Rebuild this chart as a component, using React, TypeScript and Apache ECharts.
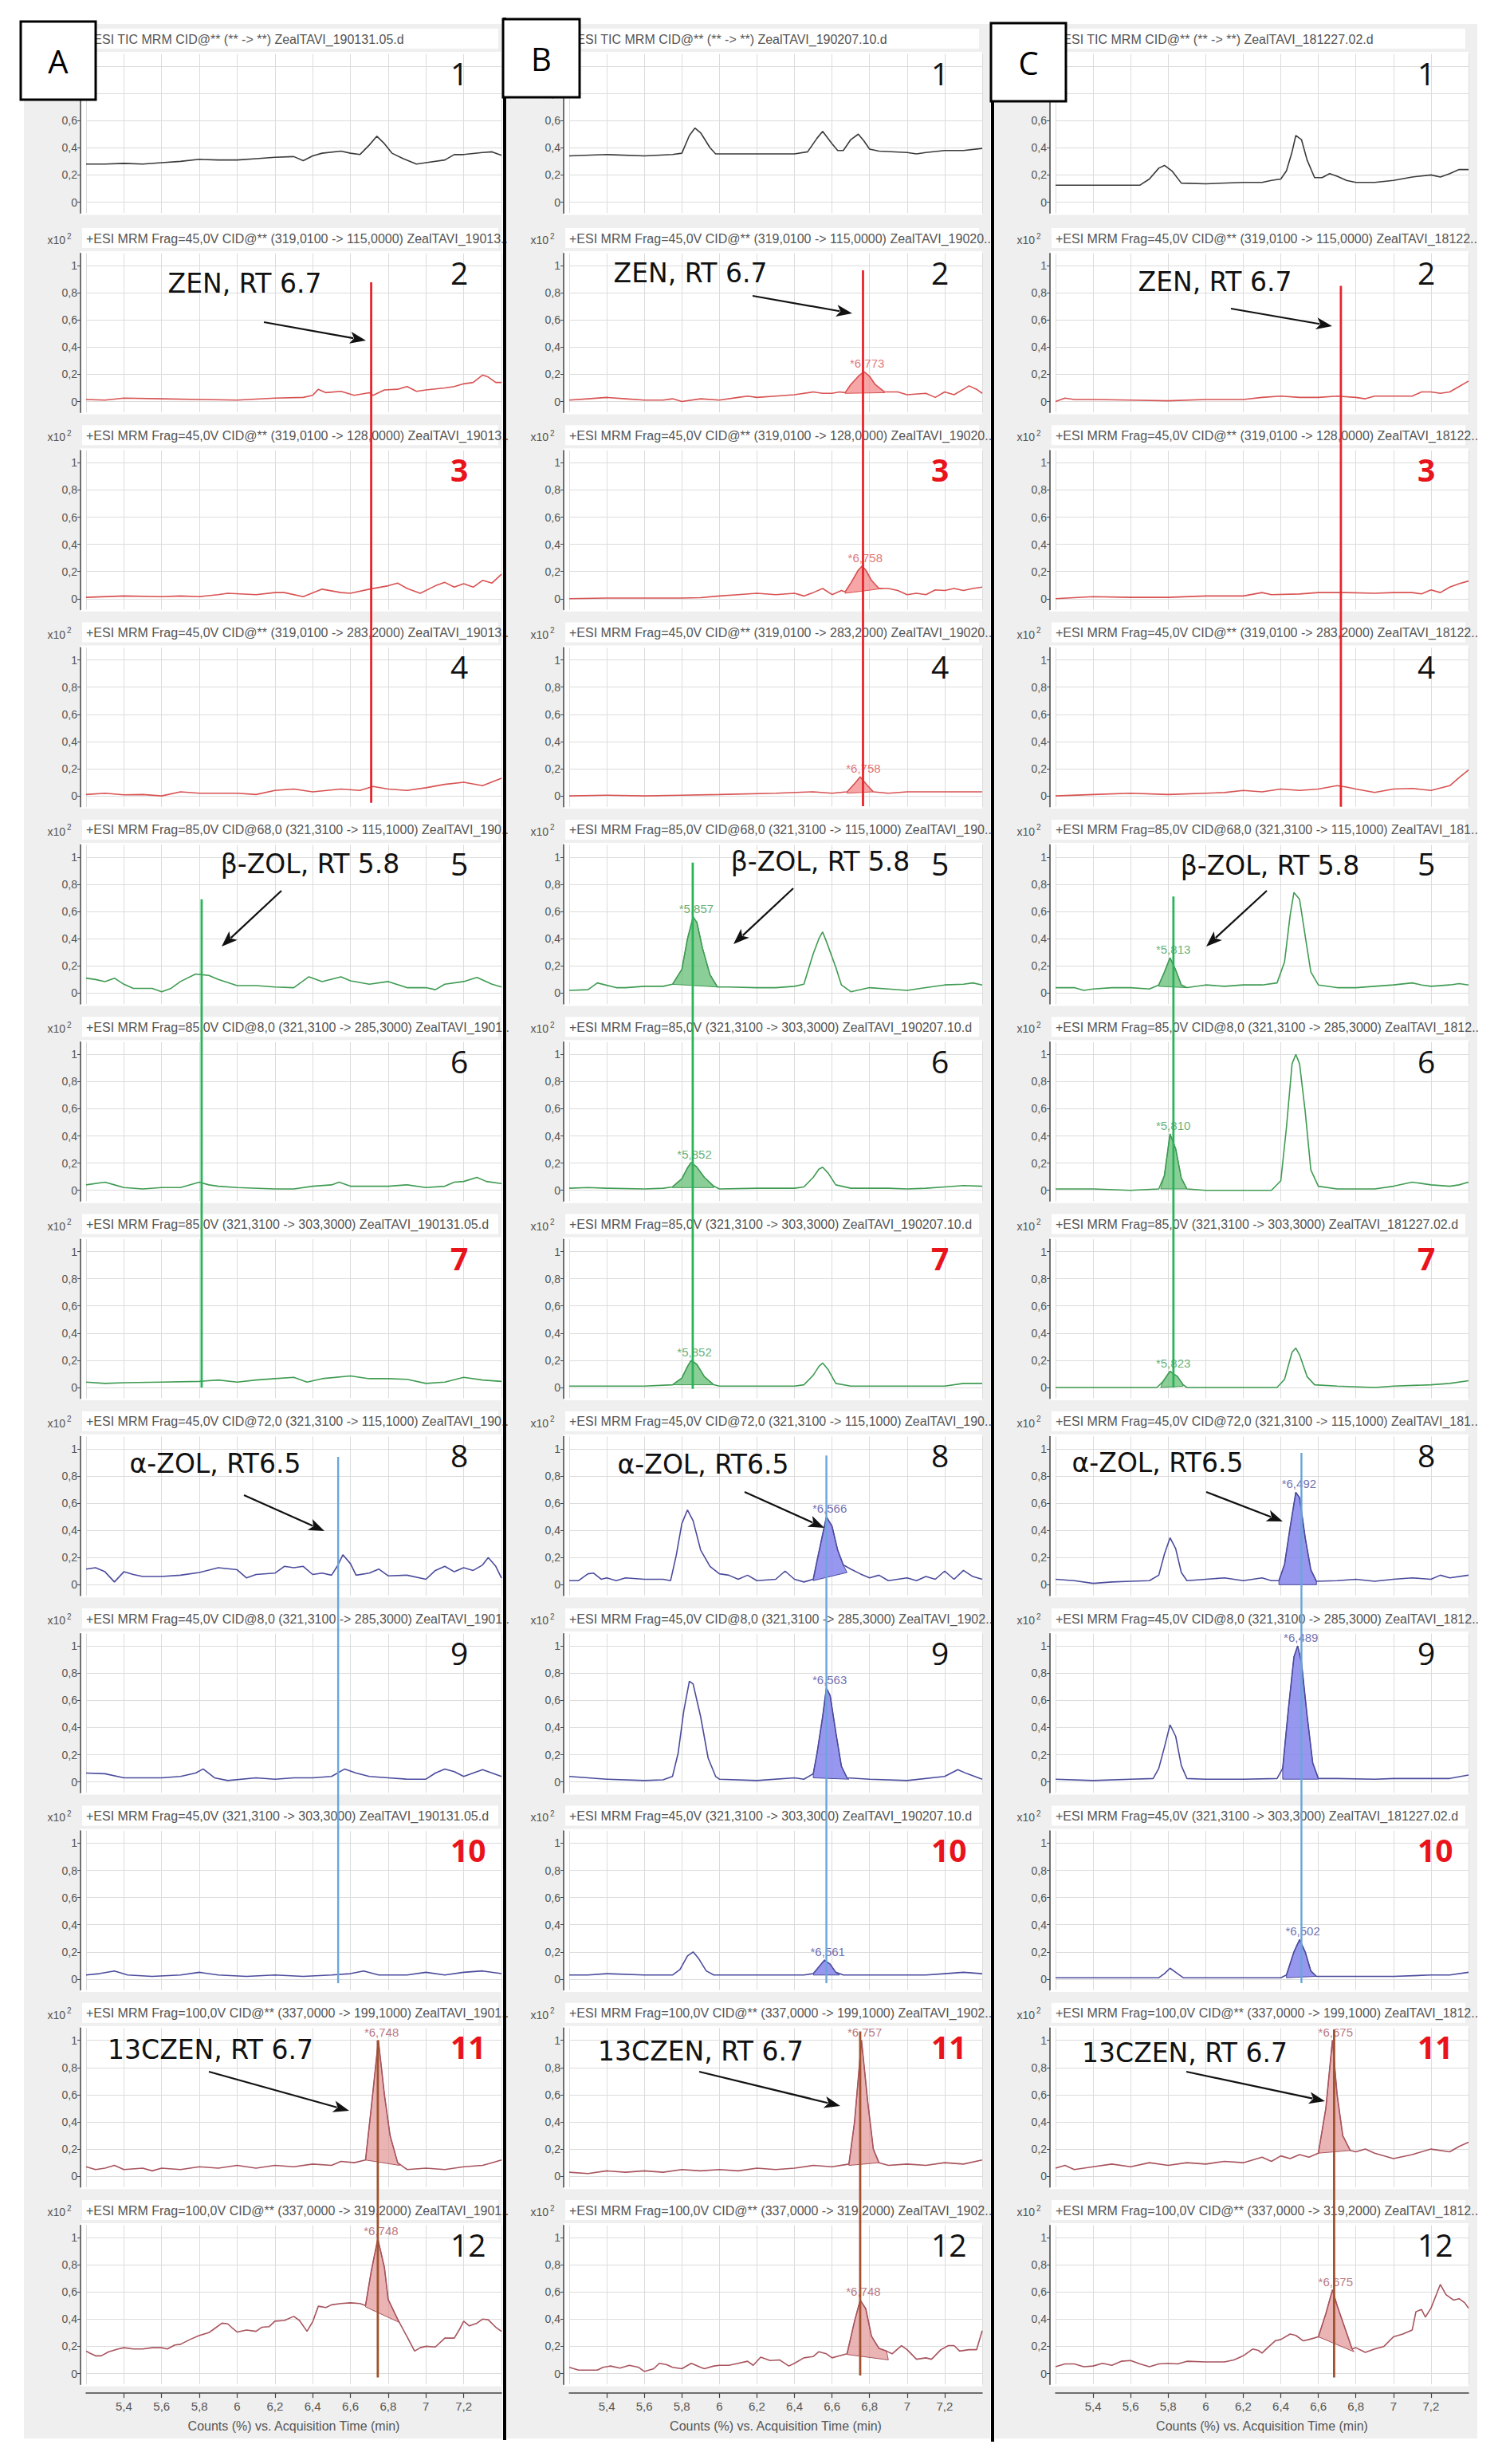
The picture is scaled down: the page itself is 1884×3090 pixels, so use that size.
import React, { useEffect, useRef } from 'react';
import * as echarts from 'echarts';

type Pt = [number, number];

const W = 1884;
const H = 3090;

// ---------- axis definitions ----------
const X_MIN = 5.2;
const X_MAX = 7.4;
const X_STEP = 0.2;
const Y_MIN = -0.08;
const Y_MAX = 1.09;
const Y_TICKS = [0, 0.2, 0.4, 0.6, 0.8, 1];
const X_TITLE = 'Counts (%) vs. Acquisition Time (min)';
const LETTERS = ['A', 'B', 'C'];

// ---------- header texts ----------
const HEADERS_A = [
  '+ESI TIC MRM CID@** (** -> **) ZealTAVI_190131.05.d',
  '+ESI MRM Frag=45,0V CID@** (319,0100 -> 115,0000) ZealTAVI_19013..',
  '+ESI MRM Frag=45,0V CID@** (319,0100 -> 128,0000) ZealTAVI_19013..',
  '+ESI MRM Frag=45,0V CID@** (319,0100 -> 283,2000) ZealTAVI_19013..',
  '+ESI MRM Frag=85,0V CID@68,0 (321,3100 -> 115,1000) ZealTAVI_190..',
  '+ESI MRM Frag=85,0V CID@8,0 (321,3100 -> 285,3000) ZealTAVI_1901..',
  '+ESI MRM Frag=85,0V (321,3100 -> 303,3000) ZealTAVI_190131.05.d',
  '+ESI MRM Frag=45,0V CID@72,0 (321,3100 -> 115,1000) ZealTAVI_190..',
  '+ESI MRM Frag=45,0V CID@8,0 (321,3100 -> 285,3000) ZealTAVI_1901..',
  '+ESI MRM Frag=45,0V (321,3100 -> 303,3000) ZealTAVI_190131.05.d',
  '+ESI MRM Frag=100,0V CID@** (337,0000 -> 199,1000) ZealTAVI_1901..',
  '+ESI MRM Frag=100,0V CID@** (337,0000 -> 319,2000) ZealTAVI_1901..',
];
const HEADERS_B = [
  '+ESI TIC MRM CID@** (** -> **) ZealTAVI_190207.10.d',
  '+ESI MRM Frag=45,0V CID@** (319,0100 -> 115,0000) ZealTAVI_19020..',
  '+ESI MRM Frag=45,0V CID@** (319,0100 -> 128,0000) ZealTAVI_19020..',
  '+ESI MRM Frag=45,0V CID@** (319,0100 -> 283,2000) ZealTAVI_19020..',
  '+ESI MRM Frag=85,0V CID@68,0 (321,3100 -> 115,1000) ZealTAVI_190..',
  '+ESI MRM Frag=85,0V (321,3100 -> 303,3000) ZealTAVI_190207.10.d',
  '+ESI MRM Frag=85,0V (321,3100 -> 303,3000) ZealTAVI_190207.10.d',
  '+ESI MRM Frag=45,0V CID@72,0 (321,3100 -> 115,1000) ZealTAVI_190..',
  '+ESI MRM Frag=45,0V CID@8,0 (321,3100 -> 285,3000) ZealTAVI_1902..',
  '+ESI MRM Frag=45,0V (321,3100 -> 303,3000) ZealTAVI_190207.10.d',
  '+ESI MRM Frag=100,0V CID@** (337,0000 -> 199,1000) ZealTAVI_1902..',
  '+ESI MRM Frag=100,0V CID@** (337,0000 -> 319,2000) ZealTAVI_1902..',
];
const HEADERS_C = [
  '+ESI TIC MRM CID@** (** -> **) ZealTAVI_181227.02.d',
  '+ESI MRM Frag=45,0V CID@** (319,0100 -> 115,0000) ZealTAVI_18122..',
  '+ESI MRM Frag=45,0V CID@** (319,0100 -> 128,0000) ZealTAVI_18122..',
  '+ESI MRM Frag=45,0V CID@** (319,0100 -> 283,2000) ZealTAVI_18122..',
  '+ESI MRM Frag=85,0V CID@68,0 (321,3100 -> 115,1000) ZealTAVI_181..',
  '+ESI MRM Frag=85,0V CID@8,0 (321,3100 -> 285,3000) ZealTAVI_1812..',
  '+ESI MRM Frag=85,0V (321,3100 -> 303,3000) ZealTAVI_181227.02.d',
  '+ESI MRM Frag=45,0V CID@72,0 (321,3100 -> 115,1000) ZealTAVI_181..',
  '+ESI MRM Frag=45,0V CID@8,0 (321,3100 -> 285,3000) ZealTAVI_1812..',
  '+ESI MRM Frag=45,0V (321,3100 -> 303,3000) ZealTAVI_181227.02.d',
  '+ESI MRM Frag=100,0V CID@** (337,0000 -> 199,1000) ZealTAVI_1812..',
  '+ESI MRM Frag=100,0V CID@** (337,0000 -> 319,2000) ZealTAVI_1812..',
];
const ROW_NUMBERS = ['1', '2', '3', '4', '5', '6', '7', '8', '9', '10', '11', '12'];
const RED_ROWS = [2, 6, 9, 10];

// ---------- traces (time min, counts x10^2) ----------
const A1: Pt[] = [[5.2,0.28],[5.3,0.28],[5.4,0.285],[5.5,0.28],[5.6,0.29],[5.7,0.3],[5.8,0.315],[5.9,0.31],[6.0,0.31],[6.1,0.32],[6.2,0.33],[6.3,0.335],[6.35,0.305],[6.4,0.34],[6.45,0.36],[6.55,0.375],[6.6,0.36],[6.65,0.35],[6.7,0.42],[6.74,0.485],[6.78,0.43],[6.82,0.36],[6.88,0.32],[6.95,0.28],[7.0,0.29],[7.1,0.31],[7.15,0.35],[7.2,0.35],[7.3,0.365],[7.35,0.37],[7.4,0.345]];
const A2: Pt[] = [[5.2,0.015],[5.3,0.01],[5.4,0.025],[5.6,0.02],[5.8,0.015],[6.0,0.01],[6.2,0.025],[6.35,0.03],[6.4,0.045],[6.43,0.09],[6.47,0.065],[6.55,0.075],[6.62,0.045],[6.7,0.065],[6.72,0.045],[6.78,0.085],[6.85,0.09],[6.9,0.11],[6.95,0.075],[7.0,0.085],[7.1,0.1],[7.15,0.11],[7.2,0.13],[7.25,0.14],[7.3,0.195],[7.33,0.18],[7.37,0.14],[7.4,0.14]];
const A3: Pt[] = [[5.2,0.01],[5.4,0.02],[5.6,0.015],[5.7,0.02],[5.8,0.015],[5.9,0.03],[5.95,0.04],[6.1,0.03],[6.2,0.045],[6.25,0.045],[6.35,0.015],[6.45,0.07],[6.55,0.045],[6.6,0.04],[6.7,0.07],[6.8,0.095],[6.85,0.115],[6.9,0.075],[6.97,0.04],[7.05,0.095],[7.1,0.12],[7.15,0.085],[7.2,0.11],[7.25,0.085],[7.3,0.135],[7.35,0.115],[7.4,0.18]];
const A4: Pt[] = [[5.2,0.01],[5.3,0.02],[5.4,0.008],[5.5,0.01],[5.6,0.0],[5.7,0.03],[5.8,0.02],[6.0,0.02],[6.1,0.01],[6.2,0.04],[6.3,0.05],[6.4,0.03],[6.55,0.05],[6.65,0.04],[6.72,0.07],[6.8,0.05],[6.9,0.04],[7.0,0.06],[7.1,0.085],[7.2,0.1],[7.3,0.075],[7.4,0.13]];
const A5: Pt[] = [[5.2,0.11],[5.25,0.1],[5.3,0.085],[5.35,0.11],[5.4,0.065],[5.45,0.035],[5.55,0.035],[5.6,0.01],[5.65,0.035],[5.7,0.085],[5.78,0.14],[5.85,0.13],[5.9,0.1],[6.0,0.055],[6.1,0.055],[6.2,0.045],[6.3,0.04],[6.38,0.12],[6.45,0.085],[6.55,0.12],[6.6,0.09],[6.7,0.065],[6.8,0.085],[6.9,0.04],[7.0,0.04],[7.05,0.025],[7.1,0.065],[7.2,0.085],[7.27,0.115],[7.35,0.065],[7.4,0.045]];
const A6: Pt[] = [[5.2,0.04],[5.3,0.06],[5.35,0.04],[5.4,0.02],[5.5,0.01],[5.6,0.02],[5.7,0.02],[5.8,0.06],[5.85,0.04],[5.9,0.03],[6.0,0.02],[6.2,0.01],[6.3,0.01],[6.4,0.03],[6.5,0.04],[6.54,0.06],[6.6,0.03],[6.8,0.03],[6.9,0.04],[7.0,0.02],[7.1,0.03],[7.15,0.06],[7.2,0.065],[7.27,0.095],[7.32,0.065],[7.4,0.05]];
const A7: Pt[] = [[5.2,0.04],[5.3,0.03],[5.4,0.035],[5.6,0.04],[5.8,0.045],[5.9,0.055],[6.0,0.04],[6.1,0.055],[6.2,0.065],[6.3,0.075],[6.37,0.04],[6.45,0.065],[6.6,0.085],[6.7,0.065],[6.8,0.065],[6.9,0.06],[7.0,0.03],[7.1,0.04],[7.2,0.075],[7.3,0.055],[7.4,0.045]];
const A8: Pt[] = [[5.2,0.115],[5.25,0.125],[5.3,0.095],[5.35,0.02],[5.4,0.095],[5.45,0.075],[5.5,0.06],[5.6,0.06],[5.7,0.07],[5.8,0.09],[5.9,0.125],[6.0,0.11],[6.05,0.05],[6.1,0.075],[6.2,0.085],[6.25,0.135],[6.3,0.125],[6.35,0.135],[6.4,0.075],[6.45,0.085],[6.5,0.07],[6.53,0.135],[6.56,0.22],[6.6,0.155],[6.63,0.07],[6.7,0.085],[6.75,0.115],[6.8,0.065],[6.9,0.07],[7.0,0.04],[7.05,0.105],[7.1,0.135],[7.15,0.095],[7.2,0.125],[7.25,0.105],[7.3,0.145],[7.33,0.2],[7.37,0.135],[7.4,0.05]];
const A9: Pt[] = [[5.2,0.065],[5.3,0.06],[5.4,0.03],[5.5,0.03],[5.6,0.03],[5.7,0.04],[5.78,0.065],[5.82,0.095],[5.88,0.03],[5.95,0.01],[6.1,0.03],[6.2,0.02],[6.3,0.03],[6.4,0.03],[6.5,0.04],[6.57,0.095],[6.63,0.065],[6.7,0.04],[6.8,0.03],[6.9,0.02],[7.0,0.02],[7.05,0.065],[7.1,0.095],[7.15,0.075],[7.2,0.04],[7.3,0.09],[7.35,0.065],[7.4,0.04]];
const A10: Pt[] = [[5.2,0.03],[5.27,0.04],[5.35,0.06],[5.42,0.03],[5.55,0.02],[5.7,0.03],[5.8,0.05],[5.9,0.03],[6.05,0.02],[6.2,0.03],[6.35,0.02],[6.5,0.03],[6.6,0.04],[6.67,0.06],[6.75,0.03],[6.9,0.03],[7.0,0.05],[7.1,0.03],[7.2,0.05],[7.3,0.06],[7.4,0.04]];
const A11: Pt[] = [[5.2,0.07],[5.25,0.05],[5.3,0.06],[5.35,0.08],[5.4,0.05],[5.5,0.06],[5.55,0.04],[5.6,0.06],[5.7,0.05],[5.8,0.07],[5.9,0.06],[6.0,0.08],[6.1,0.06],[6.2,0.08],[6.3,0.07],[6.4,0.09],[6.5,0.08],[6.55,0.11],[6.62,0.1],[6.68,0.12],[6.71,0.5],[6.748,1.0],[6.78,0.6],[6.81,0.3],[6.85,0.1],[6.9,0.05],[7.0,0.06],[7.1,0.05],[7.2,0.07],[7.3,0.08],[7.35,0.1],[7.4,0.12]];
const A12: Pt[] = [[5.2,0.165],[5.22,0.15],[5.25,0.13],[5.28,0.13],[5.32,0.16],[5.37,0.18],[5.4,0.19],[5.45,0.18],[5.5,0.18],[5.55,0.19],[5.6,0.19],[5.63,0.18],[5.67,0.21],[5.7,0.215],[5.75,0.25],[5.8,0.28],[5.85,0.3],[5.88,0.33],[5.92,0.37],[5.95,0.365],[5.97,0.34],[6.0,0.305],[6.05,0.32],[6.1,0.31],[6.13,0.34],[6.17,0.345],[6.2,0.385],[6.25,0.39],[6.3,0.42],[6.33,0.39],[6.37,0.31],[6.4,0.38],[6.43,0.495],[6.47,0.485],[6.5,0.505],[6.55,0.515],[6.6,0.52],[6.65,0.515],[6.68,0.5],[6.71,0.75],[6.745,0.99],[6.78,0.78],[6.8,0.545],[6.85,0.4],[6.9,0.27],[6.94,0.165],[6.97,0.19],[7.0,0.2],[7.05,0.195],[7.1,0.26],[7.15,0.26],[7.18,0.33],[7.2,0.385],[7.23,0.35],[7.27,0.37],[7.3,0.4],[7.33,0.395],[7.37,0.34],[7.4,0.31]];

const B1: Pt[] = [[5.2,0.34],[5.4,0.35],[5.6,0.34],[5.75,0.35],[5.8,0.36],[5.84,0.49],[5.87,0.545],[5.9,0.51],[5.95,0.4],[5.98,0.355],[6.1,0.355],[6.3,0.355],[6.4,0.355],[6.47,0.37],[6.52,0.47],[6.55,0.52],[6.6,0.43],[6.63,0.38],[6.66,0.38],[6.7,0.46],[6.74,0.5],[6.77,0.45],[6.8,0.39],[6.85,0.375],[7.0,0.365],[7.05,0.355],[7.1,0.365],[7.2,0.38],[7.3,0.38],[7.4,0.395]];
const B2: Pt[] = [[5.2,0.01],[5.3,0.02],[5.4,0.03],[5.5,0.02],[5.6,0.01],[5.7,0.01],[5.75,0.02],[5.8,0.0],[5.9,0.02],[6.0,0.01],[6.1,0.03],[6.15,0.04],[6.2,0.03],[6.3,0.04],[6.4,0.05],[6.5,0.07],[6.55,0.06],[6.6,0.06],[6.64,0.07],[6.67,0.065],[6.7,0.125],[6.74,0.185],[6.77,0.22],[6.8,0.185],[6.83,0.125],[6.88,0.07],[6.95,0.07],[7.0,0.05],[7.1,0.06],[7.15,0.03],[7.2,0.07],[7.25,0.05],[7.3,0.09],[7.33,0.115],[7.37,0.09],[7.4,0.06]];
const B3: Pt[] = [[5.2,0.0],[5.4,0.005],[5.6,0.005],[5.8,0.005],[5.9,0.008],[6.0,0.02],[6.1,0.03],[6.2,0.04],[6.3,0.03],[6.4,0.04],[6.45,0.02],[6.5,0.045],[6.55,0.075],[6.6,0.03],[6.65,0.06],[6.67,0.05],[6.7,0.115],[6.74,0.21],[6.76,0.24],[6.78,0.21],[6.81,0.135],[6.85,0.075],[6.9,0.075],[6.95,0.06],[7.0,0.03],[7.05,0.04],[7.1,0.03],[7.15,0.065],[7.2,0.06],[7.25,0.075],[7.3,0.06],[7.35,0.075],[7.4,0.085]];
const B4: Pt[] = [[5.2,0.0],[5.4,0.005],[5.6,0.0],[5.8,0.005],[6.0,0.01],[6.3,0.02],[6.5,0.03],[6.6,0.02],[6.68,0.03],[6.72,0.09],[6.75,0.14],[6.78,0.09],[6.82,0.03],[6.9,0.02],[7.0,0.03],[7.2,0.03],[7.4,0.03]];
const B5: Pt[] = [[5.2,0.02],[5.3,0.025],[5.35,0.075],[5.45,0.04],[5.5,0.04],[5.6,0.05],[5.7,0.05],[5.75,0.065],[5.8,0.175],[5.83,0.4],[5.86,0.56],[5.88,0.52],[5.91,0.33],[5.95,0.135],[5.99,0.045],[6.05,0.045],[6.2,0.04],[6.3,0.04],[6.4,0.05],[6.45,0.065],[6.5,0.29],[6.53,0.4],[6.55,0.45],[6.57,0.38],[6.62,0.19],[6.65,0.06],[6.7,0.01],[6.8,0.04],[6.9,0.03],[7.0,0.02],[7.1,0.04],[7.2,0.06],[7.3,0.065],[7.35,0.075],[7.4,0.06]];
const B6: Pt[] = [[5.2,0.015],[5.3,0.02],[5.4,0.015],[5.6,0.01],[5.7,0.015],[5.75,0.025],[5.8,0.085],[5.83,0.165],[5.85,0.205],[5.88,0.17],[5.92,0.095],[5.97,0.03],[6.0,0.01],[6.2,0.015],[6.4,0.015],[6.45,0.025],[6.5,0.095],[6.53,0.155],[6.55,0.17],[6.58,0.125],[6.62,0.04],[6.7,0.015],[6.9,0.015],[7.0,0.01],[7.1,0.015],[7.2,0.025],[7.3,0.035],[7.4,0.03]];
const B7: Pt[] = [[5.2,0.01],[5.4,0.01],[5.6,0.01],[5.75,0.02],[5.8,0.07],[5.83,0.155],[5.85,0.2],[5.88,0.17],[5.92,0.08],[5.97,0.02],[6.0,0.01],[6.2,0.01],[6.4,0.01],[6.45,0.02],[6.5,0.09],[6.53,0.155],[6.55,0.18],[6.58,0.13],[6.62,0.03],[6.7,0.01],[7.0,0.01],[7.2,0.01],[7.3,0.03],[7.4,0.03]];
const B8: Pt[] = [[5.2,0.03],[5.25,0.03],[5.3,0.08],[5.33,0.085],[5.37,0.04],[5.4,0.05],[5.45,0.03],[5.5,0.05],[5.6,0.04],[5.7,0.04],[5.74,0.03],[5.77,0.215],[5.8,0.45],[5.83,0.55],[5.86,0.47],[5.9,0.255],[5.95,0.135],[6.0,0.08],[6.05,0.07],[6.1,0.04],[6.15,0.07],[6.2,0.03],[6.3,0.04],[6.35,0.1],[6.4,0.04],[6.45,0.02],[6.5,0.04],[6.52,0.175],[6.55,0.37],[6.57,0.5],[6.6,0.43],[6.63,0.255],[6.66,0.145],[6.7,0.115],[6.75,0.08],[6.8,0.05],[6.85,0.07],[6.9,0.03],[7.0,0.05],[7.05,0.03],[7.1,0.06],[7.15,0.04],[7.2,0.1],[7.25,0.04],[7.3,0.105],[7.35,0.06],[7.4,0.04]];
const B9: Pt[] = [[5.2,0.04],[5.3,0.03],[5.4,0.02],[5.6,0.01],[5.7,0.015],[5.75,0.04],[5.78,0.21],[5.81,0.52],[5.84,0.74],[5.86,0.72],[5.9,0.48],[5.94,0.175],[5.98,0.04],[6.0,0.02],[6.2,0.01],[6.4,0.03],[6.45,0.02],[6.5,0.06],[6.52,0.21],[6.55,0.48],[6.57,0.69],[6.59,0.635],[6.62,0.365],[6.65,0.115],[6.68,0.03],[6.8,0.02],[7.0,0.01],[7.2,0.04],[7.27,0.09],[7.32,0.06],[7.4,0.02]];
const B10: Pt[] = [[5.2,0.03],[5.3,0.03],[5.4,0.04],[5.6,0.03],[5.75,0.03],[5.79,0.07],[5.83,0.17],[5.86,0.2],[5.89,0.15],[5.93,0.06],[5.97,0.03],[6.2,0.03],[6.45,0.03],[6.5,0.04],[6.53,0.09],[6.56,0.14],[6.59,0.11],[6.62,0.05],[6.66,0.03],[6.9,0.03],[7.1,0.03],[7.2,0.04],[7.3,0.05],[7.4,0.04]];
const B11: Pt[] = [[5.2,0.03],[5.3,0.02],[5.4,0.04],[5.5,0.03],[5.6,0.04],[5.7,0.03],[5.8,0.05],[5.9,0.04],[6.0,0.05],[6.1,0.04],[6.2,0.06],[6.3,0.05],[6.4,0.06],[6.5,0.08],[6.6,0.07],[6.69,0.09],[6.72,0.4],[6.757,1.0],[6.79,0.55],[6.82,0.2],[6.85,0.1],[6.9,0.08],[7.0,0.09],[7.1,0.08],[7.2,0.1],[7.3,0.09],[7.4,0.12]];
const B12: Pt[] = [[5.2,0.045],[5.25,0.025],[5.3,0.025],[5.35,0.025],[5.38,0.045],[5.42,0.055],[5.47,0.04],[5.52,0.06],[5.57,0.045],[5.6,0.015],[5.65,0.035],[5.68,0.075],[5.72,0.065],[5.75,0.045],[5.8,0.035],[5.85,0.075],[5.9,0.045],[5.92,0.035],[5.97,0.055],[6.0,0.06],[6.05,0.06],[6.1,0.075],[6.15,0.09],[6.18,0.06],[6.22,0.12],[6.27,0.095],[6.32,0.1],[6.37,0.055],[6.4,0.075],[6.45,0.115],[6.5,0.125],[6.53,0.16],[6.57,0.145],[6.6,0.115],[6.64,0.13],[6.68,0.145],[6.72,0.385],[6.75,0.54],[6.78,0.475],[6.81,0.275],[6.85,0.185],[6.89,0.165],[6.92,0.145],[6.97,0.205],[7.0,0.175],[7.05,0.105],[7.1,0.115],[7.13,0.105],[7.18,0.175],[7.22,0.205],[7.25,0.205],[7.28,0.165],[7.33,0.175],[7.37,0.175],[7.4,0.315]];

const C1: Pt[] = [[5.2,0.125],[5.4,0.125],[5.65,0.125],[5.7,0.17],[5.75,0.25],[5.78,0.27],[5.82,0.23],[5.87,0.14],[6.0,0.135],[6.2,0.145],[6.3,0.145],[6.35,0.16],[6.4,0.17],[6.43,0.23],[6.46,0.37],[6.48,0.49],[6.51,0.46],[6.54,0.31],[6.58,0.18],[6.62,0.18],[6.66,0.21],[6.7,0.19],[6.75,0.16],[6.8,0.145],[6.9,0.145],[7.0,0.16],[7.1,0.185],[7.2,0.2],[7.25,0.185],[7.3,0.21],[7.35,0.24],[7.4,0.24]];
const C2: Pt[] = [[5.2,0.0],[5.25,0.025],[5.3,0.015],[5.4,0.015],[5.6,0.01],[5.8,0.005],[6.0,0.015],[6.2,0.015],[6.3,0.03],[6.4,0.04],[6.5,0.03],[6.6,0.03],[6.7,0.04],[6.8,0.03],[6.85,0.02],[6.9,0.04],[7.0,0.04],[7.1,0.04],[7.15,0.07],[7.2,0.07],[7.25,0.06],[7.3,0.07],[7.35,0.11],[7.4,0.15]];
const C3: Pt[] = [[5.2,0.0],[5.4,0.015],[5.6,0.01],[5.8,0.01],[6.0,0.02],[6.2,0.02],[6.3,0.045],[6.35,0.03],[6.5,0.035],[6.6,0.045],[6.75,0.045],[6.9,0.04],[7.0,0.045],[7.1,0.045],[7.15,0.035],[7.2,0.065],[7.25,0.045],[7.3,0.085],[7.35,0.11],[7.4,0.13]];
const C4: Pt[] = [[5.2,0.0],[5.4,0.01],[5.6,0.02],[5.8,0.01],[6.0,0.02],[6.1,0.025],[6.2,0.04],[6.3,0.03],[6.4,0.05],[6.5,0.04],[6.6,0.05],[6.7,0.075],[6.75,0.065],[6.8,0.05],[6.9,0.025],[7.0,0.05],[7.1,0.055],[7.2,0.04],[7.3,0.075],[7.35,0.135],[7.4,0.19]];
const C5: Pt[] = [[5.2,0.04],[5.3,0.04],[5.35,0.02],[5.4,0.03],[5.5,0.04],[5.6,0.04],[5.7,0.03],[5.75,0.06],[5.78,0.155],[5.81,0.26],[5.84,0.17],[5.87,0.06],[5.9,0.04],[6.0,0.06],[6.1,0.05],[6.2,0.06],[6.3,0.06],[6.38,0.075],[6.42,0.23],[6.45,0.575],[6.47,0.74],[6.5,0.69],[6.53,0.42],[6.56,0.155],[6.6,0.06],[6.7,0.04],[6.8,0.04],[6.9,0.05],[7.0,0.06],[7.1,0.075],[7.15,0.06],[7.2,0.05],[7.3,0.06],[7.35,0.07],[7.4,0.06]];
const C6: Pt[] = [[5.2,0.01],[5.4,0.01],[5.6,0.0],[5.75,0.01],[5.78,0.11],[5.81,0.415],[5.84,0.305],[5.87,0.09],[5.9,0.01],[6.0,0.0],[6.2,0.0],[6.35,0.0],[6.4,0.07],[6.43,0.46],[6.46,0.93],[6.48,1.0],[6.5,0.93],[6.53,0.58],[6.56,0.15],[6.6,0.03],[6.7,0.01],[6.9,0.01],[7.0,0.03],[7.1,0.06],[7.2,0.04],[7.3,0.03],[7.35,0.04],[7.4,0.06]];
const C7: Pt[] = [[5.2,0.0],[5.4,0.0],[5.6,0.0],[5.74,0.0],[5.77,0.04],[5.81,0.12],[5.85,0.08],[5.88,0.02],[5.9,0.0],[6.0,0.0],[6.2,0.0],[6.38,0.0],[6.42,0.06],[6.46,0.26],[6.48,0.29],[6.5,0.24],[6.54,0.08],[6.58,0.02],[6.7,0.01],[6.9,0.0],[7.0,0.01],[7.2,0.02],[7.3,0.03],[7.4,0.05]];
const C8: Pt[] = [[5.2,0.04],[5.3,0.03],[5.4,0.01],[5.5,0.02],[5.6,0.025],[5.7,0.03],[5.75,0.07],[5.78,0.225],[5.81,0.345],[5.84,0.265],[5.87,0.09],[5.9,0.03],[6.0,0.04],[6.1,0.05],[6.2,0.03],[6.3,0.05],[6.35,0.03],[6.39,0.03],[6.42,0.15],[6.45,0.425],[6.48,0.68],[6.5,0.64],[6.53,0.345],[6.56,0.11],[6.59,0.025],[6.7,0.03],[6.8,0.04],[6.9,0.025],[7.0,0.04],[7.1,0.05],[7.2,0.04],[7.25,0.07],[7.3,0.05],[7.4,0.07]];
const C9: Pt[] = [[5.2,0.02],[5.4,0.01],[5.6,0.02],[5.72,0.025],[5.75,0.1],[5.78,0.255],[5.81,0.42],[5.84,0.335],[5.87,0.12],[5.9,0.025],[6.0,0.02],[6.2,0.02],[6.38,0.025],[6.41,0.1],[6.44,0.53],[6.47,0.92],[6.49,1.0],[6.51,0.88],[6.54,0.49],[6.57,0.14],[6.6,0.025],[6.7,0.025],[6.9,0.02],[7.0,0.025],[7.2,0.025],[7.3,0.025],[7.4,0.05]];
const C10: Pt[] = [[5.2,0.01],[5.5,0.01],[5.75,0.01],[5.78,0.04],[5.81,0.08],[5.84,0.05],[5.88,0.01],[6.2,0.01],[6.4,0.01],[6.43,0.03],[6.47,0.2],[6.5,0.29],[6.53,0.2],[6.56,0.06],[6.59,0.02],[6.8,0.02],[7.0,0.02],[7.2,0.03],[7.3,0.03],[7.4,0.05]];
const C11: Pt[] = [[5.2,0.06],[5.25,0.08],[5.3,0.05],[5.4,0.07],[5.5,0.09],[5.6,0.07],[5.7,0.1],[5.8,0.08],[5.9,0.1],[6.0,0.09],[6.1,0.11],[6.2,0.1],[6.3,0.14],[6.35,0.11],[6.4,0.15],[6.45,0.13],[6.5,0.16],[6.55,0.14],[6.6,0.17],[6.64,0.5],[6.675,1.0],[6.7,0.6],[6.73,0.3],[6.77,0.19],[6.8,0.18],[6.85,0.2],[6.9,0.17],[7.0,0.13],[7.1,0.16],[7.2,0.2],[7.3,0.18],[7.35,0.22],[7.4,0.25]];
const C12: Pt[] = [[5.2,0.05],[5.25,0.07],[5.3,0.07],[5.35,0.05],[5.4,0.055],[5.45,0.075],[5.5,0.06],[5.55,0.09],[5.6,0.095],[5.65,0.07],[5.7,0.05],[5.75,0.07],[5.8,0.075],[5.85,0.07],[5.9,0.09],[6.0,0.085],[6.1,0.085],[6.15,0.1],[6.2,0.13],[6.25,0.18],[6.28,0.17],[6.3,0.15],[6.33,0.19],[6.37,0.24],[6.4,0.25],[6.45,0.29],[6.48,0.28],[6.52,0.24],[6.55,0.25],[6.6,0.27],[6.64,0.44],[6.675,0.615],[6.7,0.5],[6.74,0.34],[6.78,0.18],[6.8,0.19],[6.85,0.155],[6.9,0.18],[6.95,0.2],[7.0,0.27],[7.05,0.29],[7.1,0.32],[7.12,0.455],[7.15,0.47],[7.17,0.415],[7.2,0.48],[7.25,0.655],[7.28,0.58],[7.32,0.54],[7.35,0.55],[7.38,0.52],[7.4,0.48]];

const TRACES: Pt[][][] = [
  [A1, A2, A3, A4, A5, A6, A7, A8, A9, A10, A11, A12],
  [B1, B2, B3, B4, B5, B6, B7, B8, B9, B10, B11, B12],
  [C1, C2, C3, C4, C5, C6, C7, C8, C9, C10, C11, C12],
];

// integrated peaks: [column, row, from, to, baseline at from, baseline at to, label]
type Peak = [number, number, number, number, number, number, string];
const PEAKS: Peak[] = [
  [0, 10, 6.68, 6.86, 0.12, 0.08, '*6,748'],
  [0, 11, 6.68, 6.86, 0.49, 0.375, '*6,748'],
  [1, 1, 6.67, 6.88, 0.06, 0.065, '*6,773'],
  [1, 2, 6.67, 6.87, 0.04, 0.075, '*6,758'],
  [1, 3, 6.68, 6.82, 0.02, 0.03, '*6,758'],
  [1, 4, 5.75, 5.99, 0.065, 0.045, '*5,857'],
  [1, 5, 5.75, 5.97, 0.02, 0.02, '*5,852'],
  [1, 6, 5.75, 5.97, 0.02, 0.02, '*5,852'],
  [1, 7, 6.5, 6.68, 0.03, 0.09, '*6,566'],
  [1, 8, 6.5, 6.69, 0.03, 0.02, '*6,563'],
  [1, 9, 6.5, 6.64, 0.03, 0.03, '*6,561'],
  [1, 10, 6.69, 6.85, 0.08, 0.1, '*6,757'],
  [1, 11, 6.68, 6.9, 0.14, 0.1, '*6,748'],
  [2, 4, 5.75, 5.9, 0.05, 0.04, '*5,813'],
  [2, 5, 5.76, 5.9, 0.01, 0.01, '*5,810'],
  [2, 6, 5.76, 5.88, 0.0, 0.01, '*5,823'],
  [2, 7, 6.39, 6.59, 0.0, 0.0, '*6,492'],
  [2, 8, 6.41, 6.6, 0.02, 0.02, '*6,489'],
  [2, 9, 6.43, 6.59, 0.01, 0.02, '*6,502'],
  [2, 10, 6.6, 6.77, 0.17, 0.19, '*6,675'],
  [2, 11, 6.6, 6.79, 0.27, 0.16, '*6,675'],
];

// retention-time marker lines: [column, time, top row, top value, bottom row, bottom value, kind]
type Marker = [number, number, number, number, number, number, number];
const MARKERS: Marker[] = [
  [0, 6.71, 1, 0.877, 3, -0.05, 0],
  [0, 5.812, 4, 0.69, 6, 0.0, 1],
  [0, 6.535, 7, 0.94, 9, -0.03, 2],
  [0, 6.745, 10, 1.0, 11, -0.03, 3],
  [1, 6.765, 1, 0.965, 3, -0.075, 0],
  [1, 5.858, 4, 0.96, 6, -0.01, 1],
  [1, 6.57, 7, 0.95, 9, -0.03, 2],
  [1, 6.75, 10, 1.065, 11, -0.015, 3],
  [2, 6.72, 1, 0.85, 3, -0.08, 0],
  [2, 5.828, 4, 0.71, 6, 0.0, 1],
  [2, 6.51, 7, 0.97, 9, -0.03, 2],
  [2, 6.684, 10, 1.08, 11, -0.03, 3],
];
const MARKER_COLORS = ['#e8252b', '#2bb35a', '#6aa6dc', '#a0522d'];

// annotations: [text, centre x, centre y, arrow from x, from y, to x, to y]
type Note = [string, number, number, number, number, number, number];
const NOTES: Note[] = [
  ['ZEN, RT 6.7', 307, 355, 331, 404, 459, 427],
  ['β-ZOL, RT 5.8', 389, 1083, 353, 1117, 278, 1187],
  ['α-ZOL, RT6.5', 270, 1835, 306, 1875, 407, 1920],
  ['13CZEN, RT 6.7', 264, 2570, 262, 2598, 438, 2647],
  ['ZEN, RT 6.7', 866, 342, 944, 371, 1069, 393],
  ['β-ZOL, RT 5.8', 1029, 1080, 995, 1114, 920, 1184],
  ['α-ZOL, RT6.5', 882, 1836, 934, 1871, 1034, 1916],
  ['13CZEN, RT 6.7', 879, 2572, 877, 2598, 1054, 2641],
  ['ZEN, RT 6.7', 1524, 353, 1544, 387, 1671, 409],
  ['β-ZOL, RT 5.8', 1593, 1085, 1589, 1117, 1513, 1187],
  ['α-ZOL, RT6.5', 1452, 1834, 1513, 1871, 1609, 1908],
  ['13CZEN, RT 6.7', 1486, 2574, 1488, 2598, 1662, 2635],
];

// ---------- layout & style ----------
const COL_X0 = [108, 714, 1324];
const COL_W = [521, 518, 518];
const PANEL = [[30, 600], [636, 606], [1248, 605]];
const UNIT = 170.5;
const rowY1 = (r: number) => (r === 0 ? 83 : 333 + (r - 1) * 247.3);
const ROW_COLOR = ['#3a3a3a', '#d85252', '#d85252', '#d85252', '#3f9b52', '#3f9b52', '#3f9b52', '#4b4b9d', '#4b4b9d', '#4b4b9d', '#a8535d', '#a8535d'];
const FILL = (r: number) => (r < 4 ? 'rgba(242,128,128,0.7)' : r < 7 ? 'rgba(100,190,118,0.75)' : r < 10 ? 'rgba(125,125,235,0.8)' : 'rgba(222,140,142,0.65)');
const NARROW = "'Liberation Sans Narrow', 'Liberation Sans', Arial, sans-serif";
const fmt = (v: number) => String(Math.round(v * 10) / 10).replace('.', ',');

function buildOption() {
  const grid: any[] = [];
  const xAxis: any[] = [];
  const yAxis: any[] = [];
  const series: any[] = [];
  for (let c = 0; c < 3; c++) {
    for (let r = 0; r < 12; r++) {
      const g = c * 12 + r;
      const last = r === 11;
      grid.push({ left: COL_X0[c], top: rowY1(r) - (Y_MAX - 1) * UNIT, width: COL_W[c], height: (Y_MAX - Y_MIN) * UNIT });
      xAxis.push({
        type: 'value', gridIndex: g, min: X_MIN, max: X_MAX, interval: X_STEP, z: 2,
        offset: last ? 11 : 0,
        axisLine: { show: last, onZero: false, lineStyle: { color: '#444', width: 1.5 } },
        axisTick: { show: last, length: 6, lineStyle: { color: '#444', width: 1.2 } },
        axisLabel: { show: last, formatter: fmt, showMinLabel: false, showMaxLabel: false, color: '#555', fontSize: 15, fontFamily: NARROW, margin: 9 },
        splitLine: { show: true, lineStyle: { color: '#dcdcdc', width: 1 } },
        name: last ? X_TITLE : '', nameLocation: 'middle', nameGap: 33,
        nameTextStyle: { color: '#555', fontSize: 16, fontFamily: NARROW },
      });
      yAxis.push({
        type: 'value', gridIndex: g, min: Y_MIN, max: Y_MAX, offset: 7, z: 2,
        axisLine: { show: true, onZero: false, lineStyle: { color: '#444', width: 1.5 } },
        axisTick: { show: true, length: 4, customValues: Y_TICKS, lineStyle: { color: '#444' } },
        axisLabel: { customValues: Y_TICKS, formatter: fmt, color: '#555', fontSize: 14, fontFamily: NARROW, margin: 4 },
        splitLine: { show: false },
      });
      series.push({
        type: 'line', xAxisIndex: g, yAxisIndex: g, data: TRACES[c][r], symbol: 'none', showSymbol: false,
        lineStyle: { color: ROW_COLOR[r], width: 1.6 }, z: 4, silent: true,
        markLine: {
          silent: true, symbol: 'none', z: 1, label: { show: false },
          lineStyle: { color: '#dcdcdc', type: 'solid', width: 1 },
          emphasis: { disabled: true },
          data: Y_TICKS.map((v) => ({ yAxis: v })),
        },
      });
    }
  }
  PEAKS.forEach(([c, r, from, to, b0, b1, label]) => {
    const g = c * 12 + r;
    const inside = TRACES[c][r].filter((p) => p[0] >= from - 1e-9 && p[0] <= to + 1e-9);
    const poly: Pt[] = [[from, b0], ...inside, [to, b1]];
    let top = inside[0];
    inside.forEach((p) => { if (p[1] > top[1]) top = p; });
    series.push({
      type: 'custom', xAxisIndex: g, yAxisIndex: g, z: 3, silent: true, clip: false,
      data: [[top[0], top[1]]],
      renderItem: (_p: any, api: any) => {
        const pts = poly.map((p) => api.coord(p));
        const tp = api.coord(top);
        return {
          type: 'group',
          children: [
            { type: 'polygon', shape: { points: pts }, style: { fill: FILL(r), stroke: ROW_COLOR[r], lineWidth: 1 } },
            { type: 'text', x: tp[0] + 4, y: tp[1] - 3, style: { text: label, fill: ROW_COLOR[r], opacity: 0.8, font: `15px ${NARROW}`, textAlign: 'center', textVerticalAlign: 'bottom' } },
          ],
        };
      },
    });
  });
  return { animation: false, backgroundColor: '#ffffff', grid, xAxis, yAxis, series };
}

function arrowEls(x1: number, y1: number, x2: number, y2: number) {
  const a = Math.atan2(y2 - y1, x2 - x1);
  const L = 20, Wd = 7.5;
  const ca = Math.cos(a), sa = Math.sin(a);
  const bx = x2 - L * ca, by = y2 - L * sa;
  const nx = -sa, ny = ca;
  return [
    { type: 'line', z: 9, shape: { x1, y1, x2: bx + 4 * ca, y2: by + 4 * sa }, style: { stroke: '#111', lineWidth: 2.2 } },
    { type: 'polygon', z: 9, shape: { points: [[x2, y2], [bx + nx * Wd, by + ny * Wd], [bx + 5 * ca, by + 5 * sa], [bx - nx * Wd, by - ny * Wd]] }, style: { fill: '#111' } },
  ];
}

function buildGraphics(chart: any) {
  const els: any[] = [];
  const heads = [HEADERS_A, HEADERS_B, HEADERS_C];
  for (let c = 0; c < 3; c++) {
    const [px, pw] = PANEL[c];
    els.push({ type: 'rect', z: 0, silent: true, shape: { x: px, y: 30, width: pw, height: 3028 }, style: { fill: '#efefef' } });
    const axX = COL_X0[c] - 7;
    const right = COL_X0[c] + COL_W[c];
    for (let r = 0; r < 12; r++) {
      const y1 = rowY1(r);
      els.push({ type: 'rect', z: 0, silent: true, shape: { x: axX + 2, y: y1 - 47, width: right - axX - 6, height: 25 }, style: { fill: '#ffffff' } });
      els.push({ type: 'rect', z: 0, silent: true, shape: { x: axX, y: y1 - 18, width: right - axX, height: UNIT + 34 }, style: { fill: '#ffffff' } });
      els.push({ type: 'text', z: 6, silent: true, x: COL_X0[c], y: y1 - 34, style: { text: heads[c][r], fill: '#555', font: `16px ${NARROW}`, textAlign: 'left', textVerticalAlign: 'middle' } });
      if (r > 0) {
        els.push({ type: 'text', z: 6, silent: true, x: COL_X0[c] - 26, y: y1 - 32, style: { text: 'x10', fill: '#555', font: `14px ${NARROW}`, textAlign: 'right', textVerticalAlign: 'middle' } });
        els.push({ type: 'text', z: 6, silent: true, x: COL_X0[c] - 24, y: y1 - 37, style: { text: '2', fill: '#555', font: `10px ${NARROW}`, textAlign: 'left', textVerticalAlign: 'middle' } });
      }
      const red = RED_ROWS.indexOf(r) >= 0;
      els.push({ type: 'text', z: 6, silent: true, x: right - 64, y: y1 + 8, style: { text: ROW_NUMBERS[r], fill: red ? '#e8131b' : '#111', font: `${red ? 'bold ' : ''}39px 'Open Sans', sans-serif`, textAlign: 'left', textVerticalAlign: 'middle' } });
    }
  }
  // column separators
  els.push({ type: 'line', z: 12, silent: true, shape: { x1: 633, y1: 22, x2: 633, y2: 3060 }, style: { stroke: '#000', lineWidth: 4 } });
  els.push({ type: 'line', z: 12, silent: true, shape: { x1: 1245, y1: 28, x2: 1245, y2: 3062 }, style: { stroke: '#000', lineWidth: 4 } });
  // retention time markers
  MARKERS.forEach(([c, t, rt, vt, rb, vb, k]) => {
    const p1 = chart.convertToPixel({ gridIndex: c * 12 + rt }, [t, vt]);
    const p2 = chart.convertToPixel({ gridIndex: c * 12 + rb }, [t, vb]);
    els.push({ type: 'line', z: 8, silent: true, shape: { x1: p1[0], y1: p1[1], x2: p2[0], y2: p2[1] }, style: { stroke: MARKER_COLORS[k], lineWidth: k === 2 ? 2.4 : 2.8 } });
  });
  // annotations
  NOTES.forEach(([text, cx, cy, fx, fy, tx, ty]) => {
    els.push({ type: 'text', z: 9, silent: true, x: cx, y: cy, style: { text, fill: '#111', font: "33px 'DejaVu Sans', sans-serif", textAlign: 'center', textVerticalAlign: 'middle' } });
    arrowEls(fx, fy, tx, ty).forEach((e) => els.push(e));
  });
  // letter boxes
  const boxes = [[26, 27, 94, 98], [631, 24, 96, 98], [1243, 29, 94, 98]];
  boxes.forEach(([bx, by, bw, bh], i) => {
    els.push({ type: 'rect', z: 20, silent: true, shape: { x: bx, y: by, width: bw, height: bh }, style: { fill: '#fff', stroke: '#000', lineWidth: 3 } });
    els.push({ type: 'text', z: 21, silent: true, x: bx + bw / 2, y: by + bh / 2, style: { text: LETTERS[i], fill: '#000', font: "40px 'Open Sans', sans-serif", textAlign: 'center', textVerticalAlign: 'middle' } });
  });
  return els;
}

export default function App() {
  const ref = useRef<HTMLDivElement>(null);
  useEffect(() => {
    if (!ref.current) return;
    const chart = echarts.init(ref.current, null, { renderer: 'svg', width: W, height: H });
    chart.setOption(buildOption());
    chart.setOption({ graphic: { elements: buildGraphics(chart) } });
    return () => chart.dispose();
  }, []);
  return <div ref={ref} style={{ position: 'absolute', left: 0, top: 0, width: W, height: H }} />;
}
